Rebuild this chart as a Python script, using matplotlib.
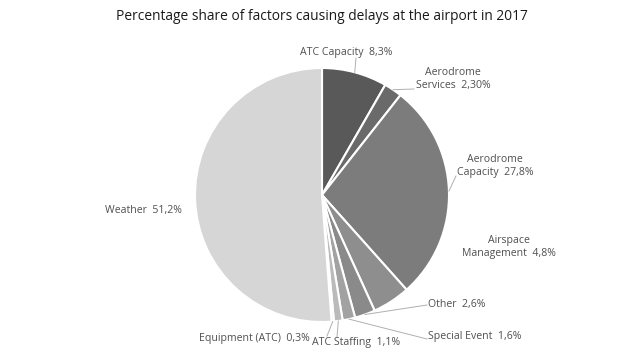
import matplotlib
matplotlib.use("Agg")
import numpy as np
import matplotlib.pyplot as plt

# data
factors = ["ATC Capacity", "Aerodrome\nServices", "Aerodrome\nCapacity", "Airspace\nManagement",
           "Other", "Special Event", "ATC Staffing", "Equipment (ATC)", "Weather"]
shares = [8.3, 2.3, 27.8, 4.8, 2.6, 1.6, 1.1, 0.3, 51.2]
share_labels = ["8,3%", "2,30%", "27,8%", "4,8%", "2,6%", "1,6%", "1,1%", "0,3%", "51,2%"]
title = "Percentage share of factors causing delays at the airport in 2017"

# styling
colors = ["#595959", "#6a6a6a", "#7c7c7c", "#8e8e8e", "#8a8a8a", "#a2a2a2",
          "#bababa", "#d0d0d0", "#d6d6d6"]
# label text centre in figure pixels (x, y from top) and leader line end points
label_pos = [(346, 53), (453, 79), (495, 166), (509, 247), (457, 305),
             (475, 337), (356, 343), (254, 338), (143, 210)]
leader_end = [(356, 58), (414, 89), (456, 176), None, (427, 305),
              (427, 339), (337, 337), (327, 336), None]

W, H = 644, 360
cx, cy, r = 322, 195, 127

plt.rcParams['font.family'] = ['Open Sans', 'DejaVu Sans']
fig = plt.figure(figsize=(W / 100, H / 100), dpi=100)
ax = fig.add_axes([(cx - r) / W, (H - cy - r) / H, 2 * r / W, 2 * r / H])
wedges, _ = ax.pie(shares, startangle=90, counterclock=False, colors=colors,
                   wedgeprops=dict(edgecolor="white", linewidth=1.5))
ax.set_xlim(-1, 1)
ax.set_ylim(-1, 1)
ax.set_aspect("equal")
ax.axis("off")


def to_data(px, py):
    return (px - cx) / r, (cy - py) / r


for i, w in enumerate(wedges):
    mid = np.deg2rad((w.theta1 + w.theta2) / 2)
    edge = (np.cos(mid), np.sin(mid))
    tx, ty = to_data(*label_pos[i])
    ax.text(tx, ty, f"{factors[i]}  {share_labels[i]}", ha="center", va="center",
            fontsize=7.6, color="#505050", linespacing=1.15, clip_on=False)
    if leader_end[i] is not None:
        ex, ey = to_data(*leader_end[i])
        ax.plot([edge[0], ex], [edge[1], ey], color="#b0b0b0", lw=0.7, clip_on=False)

fig.text(0.5, 1 - 17 / H, title, ha="center", va="center", fontsize=9.9, color="#1a1a1a")

fig.savefig("out.png", dpi=100)
